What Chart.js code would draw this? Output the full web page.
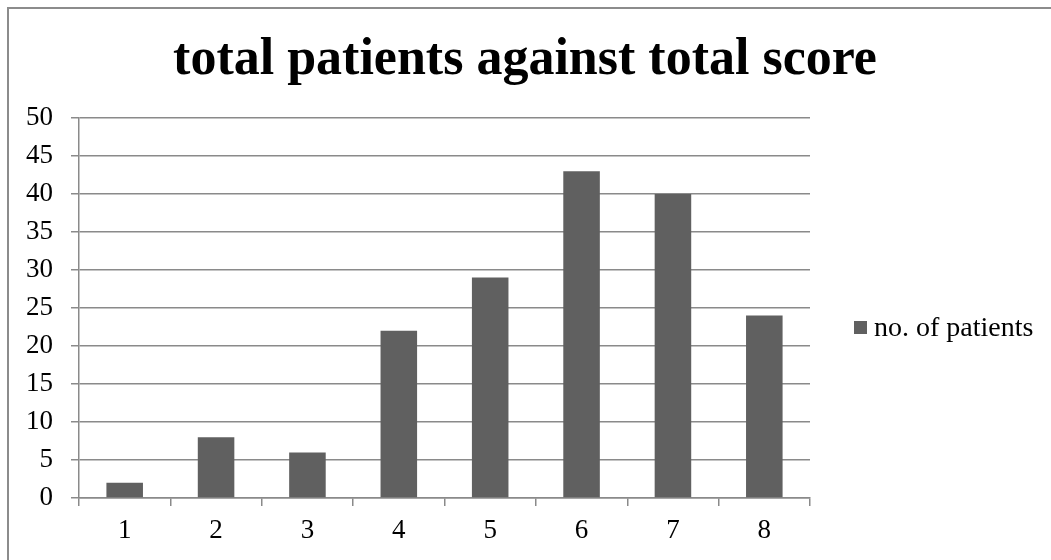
<!DOCTYPE html>
<html>
<head>
<meta charset="utf-8">
<script src="https://cdn.jsdelivr.net/npm/chart.js@4/dist/chart.umd.min.js"></script>
<style>
  html, body { margin: 0; padding: 0; background: #ffffff; }
  #wrap { width: 1051px; height: 560px; position: relative; }
</style>
</head>
<body>
<div id="wrap"><canvas id="c" width="1051" height="560"></canvas></div>
<script>
const categories = ['1', '2', '3', '4', '5', '6', '7', '8'];
const patients = [2, 8, 6, 22, 29, 43, 40, 24];
const seriesName = 'no. of patients';
const chartTitle = 'total patients against total score';

const SERIF = '"Liberation Serif", "DejaVu Serif", serif';
const BAR_COLOR = '#606060';
const GRID_COLOR = '#8a8a8a';

// Frame, title and legend drawn around the plot
const decorations = {
  id: 'decorations',
  afterDraw(chart) {
    const ctx = chart.ctx;
    ctx.save();
    // outer frame (top and left edges visible)
    ctx.strokeStyle = '#8c8c8c';
    ctx.lineWidth = 2;
    ctx.strokeRect(8, 8, 1100, 600);

    // title
    ctx.fillStyle = '#000000';
    ctx.font = 'bold 52px ' + SERIF;
    ctx.textAlign = 'center';
    ctx.textBaseline = 'alphabetic';
    ctx.fillText(chartTitle, 525, 74);

    // legend
    ctx.fillStyle = BAR_COLOR;
    ctx.fillRect(854, 321, 13, 13);
    ctx.fillStyle = '#000000';
    ctx.font = '28px ' + SERIF;
    ctx.textAlign = 'left';
    ctx.fillText(seriesName, 874, 336);
    ctx.restore();
  }
};

new Chart(document.getElementById('c'), {
  type: 'bar',
  data: {
    labels: categories,
    datasets: [{
      label: seriesName,
      data: patients,
      backgroundColor: BAR_COLOR,
      borderWidth: 0,
      categoryPercentage: 1.0,
      barPercentage: 0.4
    }]
  },
  options: {
    responsive: false,
    animation: false,
    layout: { padding: { left: 20, right: 241, top: 118, bottom: 0 } },
    plugins: {
      legend: { display: false },
      title: { display: false },
      tooltip: { enabled: false }
    },
    scales: {
      x: {
        offset: true,
        afterFit(scale) { scale.height = 62; },
        grid: {
          offset: true,
          drawOnChartArea: false,
          drawTicks: true,
          tickLength: 8,
          color: GRID_COLOR,
          lineWidth: 1.5
        },
        border: { display: true, color: GRID_COLOR, width: 1.5 },
        ticks: {
          color: '#000000',
          font: { family: SERIF, size: 27 },
          padding: 9
        }
      },
      y: {
        min: 0,
        max: 50,
        afterFit(scale) { scale.width = 59; },
        ticks: {
          stepSize: 5,
          color: '#000000',
          font: { family: SERIF, size: 27 },
          padding: 18
        },
        grid: {
          color: GRID_COLOR,
          lineWidth: 1.5,
          drawTicks: true,
          tickLength: 8
        },
        border: { display: true, color: GRID_COLOR, width: 1.5 }
      }
    }
  },
  plugins: [decorations]
});
</script>
</body>
</html>
